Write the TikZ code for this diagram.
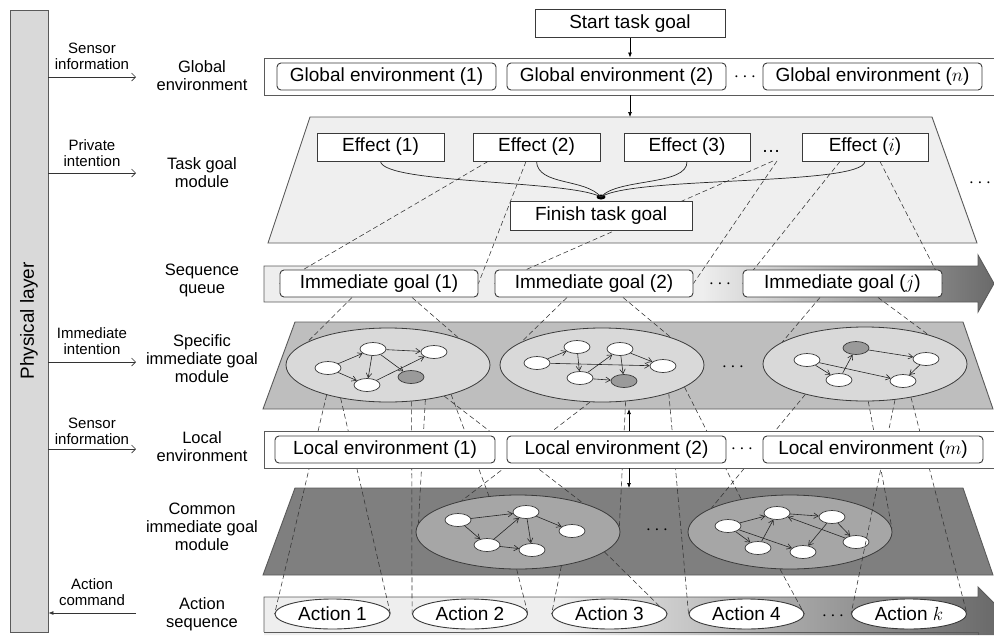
\RequirePackage{fix-cm}
\documentclass[tikz,border=0pt]{standalone}
\usepackage{fontspec}
\setmainfont{Liberation Sans}
\usetikzlibrary{arrows.meta,shapes.geometric}

\pgfdeclarelayer{back}
\pgfdeclarelayer{wires}
\pgfsetlayers{back,wires,main}

\definecolor{boxline}{HTML}{3A3A3A}
\definecolor{layerline}{HTML}{5A5A5A}
\definecolor{taskfill}{HTML}{EFEFEF}
\definecolor{specfill}{HTML}{BEBEBE}
\definecolor{specell}{HTML}{D9D9D9}
\definecolor{commfill}{HTML}{7F7F7F}
\definecolor{commell}{HTML}{A6A6A6}
\definecolor{goalnode}{HTML}{9A9A9A}
\definecolor{physfill}{HTML}{D9D9D9}
\definecolor{barlight}{HTML}{EEEEEE}
\definecolor{bardark}{HTML}{6A6A6A}

\pgfdeclarehorizontalshading{queueshade}{100bp}{color(0bp)=(barlight); color(25bp)=(barlight); color(55bp)=(barlight); color(75bp)=(bardark); color(100bp)=(bardark)}
\pgfdeclarehorizontalshading{actionshade}{100bp}{color(0bp)=(barlight); color(25bp)=(barlight); color(45bp)=(barlight); color(75bp)=(bardark); color(100bp)=(bardark)}

\newcommand\boxfont{\fontsize{19}{22}\selectfont}
\newcommand\sidefont{\fontsize{15}{16}\selectfont}
\newcommand\midfont{\fontsize{16.5}{18}\selectfont}

\begin{document}
\begin{tikzpicture}[x=1pt,y=-1pt,
  rbox/.style={draw=boxline, fill=white, rounded corners=4pt, line width=0.9pt, inner sep=0pt, minimum height=27pt, font=\boxfont},
  sbox/.style={draw=boxline, fill=white, line width=0.9pt, inner sep=0pt, minimum height=28pt, font=\boxfont},
  layerbox/.style={draw=layerline, fill=white, line width=0.9pt, inner sep=0pt},
  actell/.style={ellipse, draw=boxline, fill=white, line width=0.9pt, inner sep=1pt, minimum width=115pt, minimum height=30pt, font=\boxfont},
  bigell/.style={ellipse, draw=boxline, line width=0.8pt, inner sep=0pt, minimum width=204pt, minimum height=74pt},
  gn/.style={ellipse, draw=boxline, fill=white, line width=0.7pt, inner sep=0pt, minimum width=26pt, minimum height=13pt},
  gk/.style={gn, fill=goalnode},
  ga/.style={-{Straight Barb[length=4.5pt,width=5.5pt]}, line width=0.6pt, draw=black!85},
  proj/.style={dash pattern=on 5pt off 3pt, line width=0.55pt, draw=black!80},
  fuse/.style={line width=0.7pt, draw=black!85},
  flow/.style={-{Latex[length=5pt,width=4pt]}, line width=0.7pt},
  sidearrow/.style={-{Straight Barb[length=4pt,width=8pt]}, line width=0.7pt, draw=black!80},
  backarrow/.style={-{Latex[length=5pt,width=4pt]}, line width=0.7pt, draw=black!80},
  sidelbl/.style={align=center, font=\sidefont, inner sep=0pt},
  midlbl/.style={align=center, font=\midfont, inner sep=0pt},
  dots/.style={font=\boxfont, inner sep=0pt}]
\useasboundingbox (0,0) rectangle (994,635);

% ---------- physical layer and the side channels ----------
\node[draw=layerline, fill=physfill, line width=0.9pt, minimum width=38pt, minimum height=622pt, inner sep=0pt] (phys) at (29,321) {};
\node[rotate=90, font=\boxfont] (physlbl) at (phys) {Physical layer};

\node[sidelbl] (sl1) at (92,56) {Sensor\\information};
\coordinate (s1) at (136,77);
\draw[sidearrow] (phys.east |- s1) -- (s1);
\node[sidelbl] (sl2) at (92,153.5) {Private\\intention};
\coordinate (s2) at (136,173);
\draw[sidearrow] (phys.east |- s2) -- (s2);
\node[sidelbl] (sl3) at (92,341.5) {Immediate\\intention};
\coordinate (s3) at (136,362);
\draw[sidearrow] (phys.east |- s3) -- (s3);
\node[sidelbl] (sl4) at (92,431) {Sensor\\information};
\coordinate (s4) at (136,449);
\draw[sidearrow] (phys.east |- s4) -- (s4);
\node[sidelbl] (sl5) at (92,592.5) {Action\\command};
\coordinate (s5) at (136,613);
\draw[backarrow] (s5) -- (phys.east |- s5);

% ---------- row captions ----------
\node[midlbl] (m1) at (202,75.5) {Global\\environment};
\node[midlbl] (m2) at (202,172.5) {Task goal\\module};
\node[midlbl] (m3) at (202,280) {Sequence\\queue};
\node[midlbl] (m4) at (202,359) {Specific\\immediate goal\\module};
\node[midlbl] (m5) at (202,447) {Local\\environment};
\node[midlbl] (m6) at (202,527) {Common\\immediate goal\\module};
\node[midlbl] (m7) at (202,614) {Action\\sequence};

% ---------- background planes, bars and goal graphs ----------
\begin{pgfonlayer}{back}
  \filldraw[fill=taskfill, draw=layerline, line width=0.9pt] (310,117) -- (932,117) -- (977,243) -- (268,243) -- cycle;
  \coordinate (tasktop) at (630,117);
  \node[dots] (taskdots) at (980,183) {$\cdots$};

  \shade[shading=queueshade] (264,266) -- (978,266) -- (978,255) -- (994,283.5) -- (978,312) -- (978,302) -- (264,302) -- cycle;
  \draw[layerline, line width=0.9pt] (264,266) -- (978,266) -- (978,255) -- (994,283.5) -- (978,312) -- (978,302) -- (264,302) -- cycle;

  \filldraw[fill=specfill, draw=layerline, line width=0.9pt] (295,322) -- (963,322) -- (993,409) -- (263,409) -- cycle;
  \filldraw[fill=commfill, draw=layerline, line width=0.9pt] (295,488) -- (963,488) -- (993,575) -- (263,575) -- cycle;

  \shade[shading=actionshade] (264,597) -- (978,597) -- (978,587) -- (994,603) -- (994,635) -- (264,635) -- cycle;
  \draw[layerline, line width=0.9pt] (264,632) -- (264,597) -- (978,597) -- (978,587) -- (994,603);
  \draw[layerline, line width=0.9pt] (264,632) -- (978,632) -- (978,635);

  % specific immediate goals
  \node[bigell, fill=specell] (E1) at (388,365) {};
  \node[bigell, fill=specell] (E2) at (602,365) {};
  \node[bigell, fill=specell] (E3) at (865,364) {};
  \node[dots] (specdots) at (733,367) {$\cdots$};

  \node[gn] (E1a) at (328,368) {};
  \node[gn] (E1b) at (373,349) {};
  \node[gn] (E1c) at (434,352) {};
  \node[gn] (E1d) at (367,385) {};
  \node[gk] (E1e) at (411,377) {};
  \draw[ga] (E1a) -- (E1b);
  \draw[ga] (E1a) -- (E1d);
  \draw[ga] (E1b) -- (E1c);
  \draw[ga] (E1b) -- (E1d);
  \draw[ga] (E1b) -- (E1e);
  \draw[ga] (E1d) -- (E1c);

  \node[gn] (E2a) at (537,363) {};
  \node[gn] (E2b) at (577,347) {};
  \node[gn] (E2c) at (620,349) {};
  \node[gn] (E2d) at (580,378) {};
  \node[gk] (E2e) at (624,381) {};
  \node[gn] (E2f) at (663,366) {};
  \draw[ga] (E2a) -- (E2b);
  \draw[ga] (E2b) -- (E2d);
  \draw[ga] (E2a) -- (E2f);
  \draw[ga] (E2d) -- (E2c);
  \draw[ga] (E2d) -- (E2e);
  \draw[ga] (E2c) -- (E2f);
  \draw[ga] (E2c) -- (E2e);

  \node[gn] (E3a) at (807,360) {};
  \node[gk] (E3b) at (856,348) {};
  \node[gn] (E3c) at (926,359) {};
  \node[gn] (E3d) at (839,380) {};
  \node[gn] (E3e) at (903,381) {};
  \draw[ga] (E3a) -- (E3d);
  \draw[ga] (E3d) -- (E3b);
  \draw[ga] (E3b) -- (E3c);
  \draw[ga] (E3a) -- (E3e);
  \draw[ga] (E3c) -- (E3e);

  % common immediate goals
  \node[bigell, fill=commell] (C1) at (518,532) {};
  \node[bigell, fill=commell] (C2) at (790,532) {};
  \node[dots] (commdots) at (657,530) {$\cdots$};

  \node[gn] (C1a) at (458,520) {};
  \node[gn] (C1b) at (526,512) {};
  \node[gn] (C1c) at (572,531) {};
  \node[gn] (C1d) at (487,545) {};
  \node[gn] (C1e) at (532,550) {};
  \draw[ga] (C1a) -- (C1b);
  \draw[ga] (C1a) -- (C1d);
  \draw[ga] (C1d) -- (C1b);
  \draw[ga] (C1b) -- (C1e);
  \draw[ga] (C1b) -- (C1c);
  \draw[ga] (C1d) -- (C1e);

  \node[gn] (C2a) at (728,526) {};
  \node[gn] (C2b) at (777,513) {};
  \node[gn] (C2c) at (832,517) {};
  \node[gn] (C2d) at (758,548) {};
  \node[gn] (C2e) at (803,552) {};
  \node[gn] (C2f) at (856,542) {};
  \draw[ga] (C2a) -- (C2b);
  \draw[ga] (C2a) -- (C2d);
  \draw[ga] (C2a) -- (C2e);
  \draw[ga] (C2d) -- (C2b);
  \draw[ga] (C2b) -- (C2c);
  \draw[ga] (C2f) -- (C2b);
  \draw[ga] (C2c) -- (C2e);
  \draw[ga] (C2c) -- (C2f);
\end{pgfonlayer}

% ---------- boxes ----------
\node[sbox, minimum width=190pt] (start) at (630,23.5) {Start task goal};

\node[layerbox, minimum width=730pt, minimum height=37pt] (glayer) at (629,76.5) {};
\node[rbox, minimum width=219pt] (g1) at (386.5,76.5) {Global environment (1)};
\node[rbox, minimum width=219pt] (g2) at (616.5,76.5) {Global environment (2)};
\node[dots] (gdots) at (745,77) {$\cdots$};
\node[rbox, minimum width=219pt] (gn) at (872.5,76.5) {Global environment ($n$)};

\node[sbox, minimum width=127pt] (ef1) at (380.5,147) {Effect (1)};
\node[sbox, minimum width=127pt] (ef2) at (536.5,147) {Effect (2)};
\node[sbox, minimum width=126pt] (ef3) at (687,147) {Effect (3)};
\node[dots] (edots) at (771,151) {\ldots};
\node[sbox, minimum width=126pt] (efi) at (865,147) {Effect ($i$)};
\node[sbox, minimum width=182pt, minimum height=29pt] (finish) at (601,215.5) {Finish task goal};

\node[rbox, minimum width=198pt] (ig1) at (379,283.5) {Immediate goal (1)};
\node[rbox, minimum width=198pt] (ig2) at (594,283.5) {Immediate goal (2)};
\node[dots] (igdots) at (720,284) {$\cdots$};
\node[rbox, minimum width=199pt] (igj) at (842.5,283.5) {Immediate goal ($j$)};

\node[layerbox, minimum width=730pt, minimum height=37pt] (llayer) at (629,449.5) {};
\node[rbox, minimum width=220pt] (ll1) at (385,449.5) {Local environment (1)};
\node[rbox, minimum width=219pt] (ll2) at (616.5,449.5) {Local environment (2)};
\node[dots] (ldots) at (742,449.5) {$\cdots$};
\node[rbox, minimum width=220pt] (llm) at (873,449.5) {Local environment ($m$)};

\node[actell] (a1) at (332.5,614) {Action 1};
\node[actell] (a2) at (470,614) {Action 2};
\node[actell] (a3) at (609.5,614) {Action 3};
\node[actell] (a4) at (746.5,614) {Action 4};
\node[dots] (adots) at (833,616) {$\cdots$};
\node[actell] (ak) at (909,614) {Action $k$};

% ---------- flow arrows ----------
\draw[flow] (start.south) -- (start.south |- glayer.north);
\draw[flow] (glayer.south -| tasktop) -- (tasktop);
\coordinate (specbot) at (629,409);
\coordinate (commtop) at (629,488);
\draw[flow] (llayer.north) -- (specbot);
\draw[flow] (llayer.south) -- (commtop);

% ---------- effect merging and projection lines ----------
\begin{pgfonlayer}{wires}
  \node[ellipse, fill=black, inner sep=0pt, minimum width=9pt, minimum height=5pt] (join) at (601,197) {};
  \draw[fuse] (ef1.south) .. controls (384,184) and (570,180) .. (join.center);
  \draw[fuse] (ef2.south) .. controls (538,186) and (585,178) .. (join.center);
  \draw[fuse] (ef3.south) .. controls (688,186) and (617,178) .. (join.center);
  \draw[fuse] (efi.south) .. controls (862,186) and (632,176) .. (join.center);

  % task goal module -> sequence queue
  \draw[proj] ([xshift=-48.5pt]ef2.south) -- (ig1.west);
  \draw[proj] ([xshift=-10.5pt]ef2.south) -- (ig1.east);
  \draw[proj] ([shift={(2,10)}]edots.center) -- (ig2.west);
  \draw[proj] ([shift={(6,10)}]edots.center) -- (ig2.east);
  \draw[proj] ([xshift=-25pt]efi.south) -- (igj.west);
  \draw[proj] ([xshift=15pt]efi.south) -- (igj.east);

  % sequence queue -> specific immediate goals
  \draw[proj] ([xshift=-27pt]ig1.south) -- (E1.164);
  \draw[proj] ([xshift=33pt]ig1.south) -- (E1.21);
  \draw[proj] ([xshift=-27pt]ig2.south) -- (E2.164);
  \draw[proj] ([xshift=29pt]ig2.south) -- (E2.22);
  \draw[proj] ([xshift=-22.5pt]igj.south) -- (E3.165);
  \draw[proj] ([xshift=35.5pt]igj.south) -- (E3.25);

  % specific immediate goals -> common goals and actions
  \draw[proj] (E1.206) -- (a1.west);
  \draw[proj] (E1.215) -- (a1.east);
  \draw[proj] (E1.303) -- (a2.west);
  \draw[proj] (E1.317) -- (C1.175);
  \draw[proj] (E1.331) -- (C1.24);
  \draw[proj] (E1.335) -- (C1.129);
  \draw[proj] (E2.252) -- (C1.151);
  \draw[proj] (E2.303) -- (C1.3);
  \draw[proj] (E2.337) -- (a4.west);
  \draw[proj] (E2.345) -- (C2.146);
  \draw[proj] (E3.207) -- (C2.163);
  \draw[proj] (E3.275) -- (C2.2);
  \draw[proj] (E3.310) -- (ak.west);
  \draw[proj] (E3.324) -- (ak.east);

  % common immediate goals -> actions
  \draw[proj] (C1.268) -- (a2.east);
  \draw[proj] (C1.322) -- (a3.west);
  \draw[proj] (C1.347) -- (a3.east);
  \draw[proj] (C2.255) -- (a4.east);
\end{pgfonlayer}
\end{tikzpicture}
\end{document}
